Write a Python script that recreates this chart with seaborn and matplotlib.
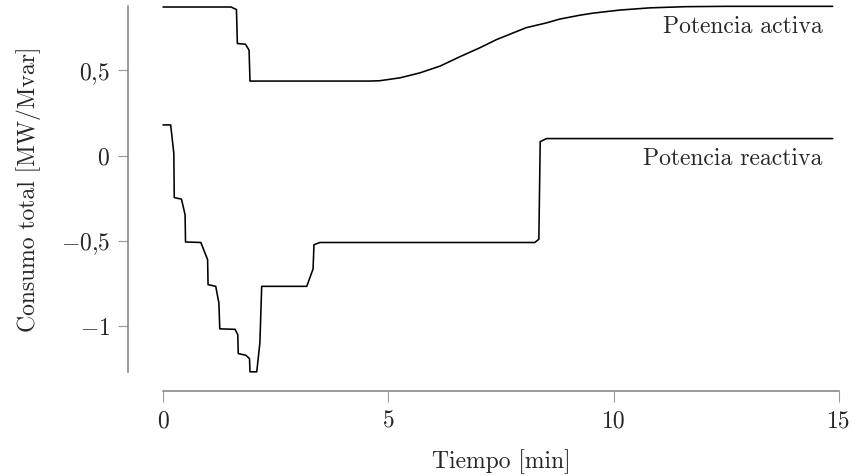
import numpy as np
import pandas as pd
import matplotlib
matplotlib.use("Agg")
import matplotlib.pyplot as plt
import seaborn as sns
from matplotlib.ticker import FixedLocator, FixedFormatter

# ---- data ----
t_activa = [0, 1.51, 1.63, 1.65, 1.83, 1.91, 1.93, 4.59, 4.81, 5.26, 5.70, 6.15,
            6.59, 7.03, 7.40, 8.06, 8.51, 8.80, 9.25, 9.54, 10.13, 10.8, 11.6, 12.5, 14.86]
p_activa = [0.871, 0.871, 0.856, 0.657, 0.653, 0.618, 0.437, 0.437, 0.439, 0.456,
            0.485, 0.525, 0.580, 0.632, 0.680, 0.750, 0.778, 0.800, 0.823, 0.835,
            0.853, 0.866, 0.873, 0.875, 0.875]

t_reactiva = [0, 0.17, 0.24, 0.25, 0.41, 0.49, 0.50, 0.84, 0.99, 1.00, 1.17, 1.24,
              1.26, 1.60, 1.66, 1.67, 1.84, 1.92, 1.93, 2.08, 2.15, 2.19, 3.19, 3.33,
              3.35, 3.48, 8.25, 8.34, 8.37, 8.51, 14.86]
q_reactiva = [0.18, 0.18, 0.014, -0.246, -0.255, -0.347, -0.506, -0.509, -0.61, -0.756,
              -0.766, -0.863, -1.015, -1.018, -1.05, -1.16, -1.17, -1.19, -1.267, -1.267,
              -1.097, -0.766, -0.766, -0.664, -0.522, -0.509, -0.509, -0.49, 0.082, 0.10, 0.10]

x_ticks = [0, 5, 10, 15]
x_ticklabels = ["0", "5", "10", "15"]
y_ticks = [-1, -0.5, 0, 0.5]
y_ticklabels = [r"$-1$", r"$-0{,}5$", r"$0$", r"$0{,}5$"]

label_activa = "Potencia activa"
label_reactiva = "Potencia reactiva"
xlabel = "Tiempo [min]"
ylabel = "Consumo total [MW/Mvar]"

# ---- style ----
sns.set_style("white")
plt.rcParams["font.family"] = ["cmr10", "DejaVu Serif"]
plt.rcParams["mathtext.fontset"] = "cm"
plt.rcParams["axes.unicode_minus"] = True

fig = plt.figure(figsize=(8.58, 4.76), dpi=100)
ax = fig.add_axes([163 / 858, 1 - 372 / 476, 676 / 858, (372 - 6.5) / 476])

df_a = pd.DataFrame({"t": t_activa, "v": p_activa})
df_r = pd.DataFrame({"t": t_reactiva, "v": q_reactiva})
sns.lineplot(data=df_a, x="t", y="v", ax=ax, color="black", linewidth=1.15,
             estimator=None, sort=False)
sns.lineplot(data=df_r, x="t", y="v", ax=ax, color="black", linewidth=1.15,
             estimator=None, sort=False)
for ln in ax.lines:
    ln.set_clip_on(False)
    ln.set_solid_joinstyle("round")

ax.set_xlim(0, 15)
ax.set_ylim(-1.268, 0.874)

for s in ["top", "right"]:
    ax.spines[s].set_visible(False)
grey = "#808080"
ax.spines["left"].set_position(("outward", 25.2))
ax.spines["bottom"].set_position(("outward", 13.7))
for s in ["left", "bottom"]:
    ax.spines[s].set_color(grey)
    ax.spines[s].set_linewidth(1.1)

ax.xaxis.set_major_locator(FixedLocator(x_ticks))
ax.xaxis.set_major_formatter(FixedFormatter(x_ticklabels))
ax.yaxis.set_major_locator(FixedLocator(y_ticks))
ax.yaxis.set_major_formatter(FixedFormatter(y_ticklabels))
ax.tick_params(axis="both", which="major", direction="out", color="#999999",
               width=0.8, labelsize=17, pad=5.8, bottom=True, left=True)
ax.tick_params(axis="x", length=8)
ax.tick_params(axis="y", length=7.2)

ax.set_xlabel(xlabel, fontsize=17, labelpad=12)
ax.set_ylabel(ylabel, fontsize=17, labelpad=14)

ax.text(14.64, 0.7175, label_activa, ha="right", va="baseline", fontsize=17)
ax.text(14.64, -0.054, label_reactiva, ha="right", va="baseline", fontsize=17)

fig.savefig("out.png", dpi=100)
